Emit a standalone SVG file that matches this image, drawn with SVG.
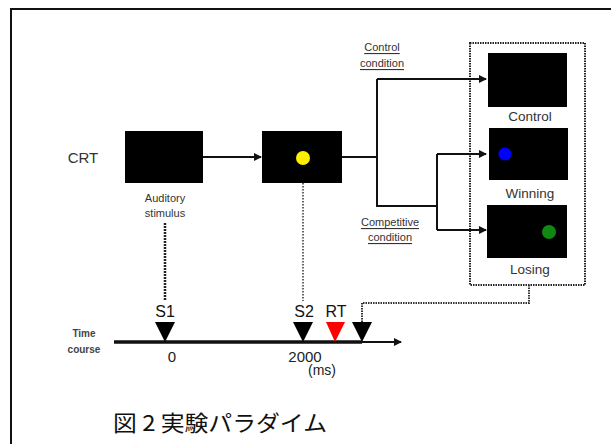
<svg xmlns="http://www.w3.org/2000/svg" width="611" height="444" viewBox="0 0 611 444">
<style>
text{font-family:"Liberation Sans",Arial,sans-serif;fill:#333;text-anchor:middle;dominant-baseline:central}
.scr{fill:#000}
.lbl{font-size:13.5px}
.sm{font-size:11px}
.cond{font-size:11px;text-decoration:underline}
.tk{font-size:16px;fill:#111}
.num{font-size:15px;fill:#222}
.ln{stroke:#111;stroke-width:2;fill:none}
</style>
<defs>
<marker id="ah" markerWidth="8" markerHeight="8" refX="7" refY="4" orient="auto" markerUnits="userSpaceOnUse">
<path d="M0,0 L8,4 L0,8 Z" fill="#111"/>
</marker>
</defs>
<rect width="611" height="444" fill="#fff"/>
<path d="M11,450 V9 H620" fill="none" stroke="#111" stroke-width="2"/>

<g id="crt-label"><text x="83" y="157" style="font-size:15px">CRT</text></g>

<g id="auditory">
<rect class="scr" x="125" y="131" width="78" height="52"/>
<text class="sm" x="165" y="198">Auditory</text>
<text class="sm" x="165" y="213">stimulus</text>
</g>

<g id="s2screen">
<rect class="scr" x="262" y="131" width="80" height="52"/>
<circle cx="303" cy="158" r="7" fill="#ffee00"/>
</g>

<g id="cond-group">
<rect x="470" y="43" width="115" height="242" fill="none" stroke="#222" stroke-width="2" stroke-dasharray="1.5 1"/>
</g>

<g id="control">
<rect class="scr" x="488" y="53" width="79" height="54"/>
<text class="lbl" x="530" y="116">Control</text>
</g>
<g id="winning">
<rect class="scr" x="489" y="128" width="79" height="52"/>
<circle cx="505" cy="154" r="6.5" fill="#0000ff"/>
<text class="lbl" x="530" y="193">Winning</text>
</g>
<g id="losing">
<rect class="scr" x="487" y="205" width="80" height="53"/>
<circle cx="549" cy="232" r="7" fill="#118811"/>
<text class="lbl" x="530" y="269">Losing</text>
</g>

<g id="cond-labels">
<text class="cond" x="382" y="47">Control</text>
<text class="cond" x="382" y="63">condition</text>
<text class="cond" x="390" y="222">Competitive</text>
<text class="cond" x="390" y="237">condition</text>
</g>

<g id="connectors">
<line class="ln" x1="203" y1="157" x2="261" y2="157" marker-end="url(#ah)"/>
<path class="ln" d="M342,157 H377"/>
<path class="ln" d="M377,79 V206 H437"/>
<path class="ln" d="M377,79 H486" marker-end="url(#ah)"/>
<path class="ln" d="M437,154 V230"/>
<path class="ln" d="M437,154 H486" marker-end="url(#ah)"/>
<path class="ln" d="M437,230 H486" marker-end="url(#ah)"/>
<line x1="165" y1="223" x2="165" y2="301" stroke="#222" stroke-width="2.5" stroke-dasharray="2 1"/>
<line x1="303" y1="183" x2="303" y2="301" stroke="#333" stroke-width="1.5" stroke-dasharray="1.5 1.5"/>
<path d="M529,285 V303 H362 V322" fill="none" stroke="#333" stroke-width="2" stroke-dasharray="1.5 1"/>
</g>

<g id="timeline">
<line x1="114" y1="342" x2="362" y2="342" stroke="#111" stroke-width="3.5"/>
<line x1="362" y1="342" x2="401" y2="342" stroke="#111" stroke-width="2" marker-end="url(#ah)"/>
<path d="M155,322 H175 L165,342 Z" fill="#000"/>
<path d="M293,322 H313 L303,342 Z" fill="#000"/>
<path d="M326,322 H345 L335,342 Z" fill="#ff0000"/>
<path d="M352,322 H372 L362,342 Z" fill="#000"/>
<text class="tk" x="165" y="311">S1</text>
<text class="tk" x="304" y="311">S2</text>
<text class="tk" x="336" y="311">RT</text>
<text class="num" x="172" y="356">0</text>
<text class="num" x="305" y="356">2000</text>
<text class="num" x="322" y="370" style="font-size:14px">(ms)</text>
<text x="84" y="333" style="font-size:10px;font-weight:bold;fill:#444">Time</text>
<text x="84" y="349" style="font-size:10px;font-weight:bold;fill:#444">course</text>
</g>

<g id="caption">
<text x="113" y="421" textLength="214" lengthAdjust="spacingAndGlyphs" style="font-family:'Noto Sans CJK JP','Noto Sans CJK SC',sans-serif;font-size:22px;fill:#111;text-anchor:start">図 2 実験パラダイム</text>
</g>
</svg>
